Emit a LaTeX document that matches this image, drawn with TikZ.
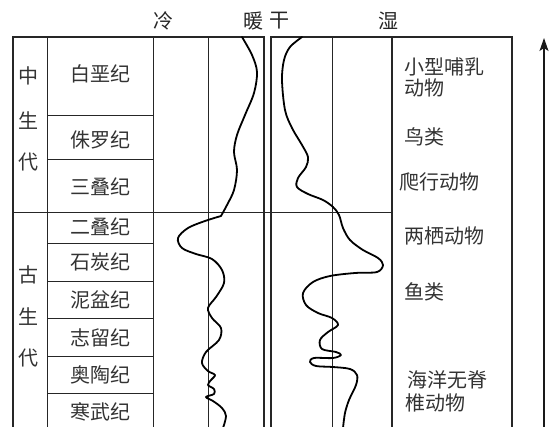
\documentclass[tikz,border=0pt]{standalone}
\usepackage{fontspec}
\setmainfont{Noto Sans CJK SC}
\usetikzlibrary{arrows.meta}
\definecolor{txt}{HTML}{333333}
\begin{document}
\begin{tikzpicture}[x=1pt,y=-1pt,
  frame/.style={line width=1.5pt,black!85},
  thin/.style={line width=1pt,black!85},
  curve/.style={line width=1.8pt,black,line join=round,line cap=round},
  lab/.style={inner sep=0pt,text=txt,font=\fontsize{20}{24}\selectfont},
  toplab/.style={inner sep=0pt,text=black!85,font=\fontsize{20}{24}\selectfont},
  animal/.style={lab,anchor=west,align=left}]
\useasboundingbox (0,0) rectangle (549,426);
% frames
\draw[frame] (13,430) -- (13,37) -- (264,37) -- (264,430);
\draw[frame] (271,430) -- (271,37) -- (512,37) -- (512,430);
\draw[thin] (47,37) -- (47,430);
\draw[thin] (153,37) -- (153,430);
\draw[thin] (208,37) -- (208,430);
\draw[thin] (332,37) -- (332,430);
\draw[frame] (392,37) -- (392,430);
% horizontal lines
\draw[thin] (13,212) -- (392,212);
\foreach \yy in {115,159,243,281,318,356,393}
  \draw[thin] (47,\yy) -- (153,\yy);
% top labels
\node[toplab] (leng) at (163,21) {冷};
\node[toplab] (nuan) at (253,21) {暖};
\node[toplab] (gan) at (279,21) {干};
\node[toplab] (shi) at (388,21) {湿};
% eras
\node[lab] (z1) at (29,76) {中};
\node[lab] (z2) at (29,121) {生};
\node[lab] (z3) at (29,162) {代};
\node[lab] (g1) at (29,275) {古};
\node[lab] (g2) at (29,317) {生};
\node[lab] (g3) at (29,358) {代};
% periods
\node[lab] (p1) at (100,74) {白垩纪};
\node[lab] (p2) at (100,140) {侏罗纪};
\node[lab] (p3) at (100,187) {三叠纪};
\node[lab] (p4) at (100,227) {二叠纪};
\node[lab] (p5) at (100,262) {石炭纪};
\node[lab] (p6) at (100,300) {泥盆纪};
\node[lab] (p7) at (100,338) {志留纪};
\node[lab] (p8) at (100,375) {奥陶纪};
\node[lab] (p9) at (100,412) {寒武纪};
% animals
\node[lab,anchor=west] (a1) at (404,67) {小型哺乳};
\node[lab,anchor=west] (a1b) at (404,88) {动物};
\node[lab,anchor=west] (a2) at (404,137) {鸟类};
\node[lab,anchor=west] (a3) at (399,182) {爬行动物};
\node[lab,anchor=west] (a4) at (404,236) {两栖动物};
\node[lab,anchor=west] (a5) at (404,292) {鱼类};
\node[lab,anchor=west] (a6) at (407,380) {海洋无脊};
\node[lab,anchor=west] (a6b) at (405,403) {椎动物};
% temperature curve
\draw[curve] plot[smooth,tension=0.55] coordinates {
 (242,37) (252,55) (257,72) (254,93) (245,115) (237,135) (234,152) (237,170)
 (234,190) (227,205) (221,216)};
\draw[curve] plot[smooth,tension=0.55] coordinates {
 (221,216) (205,221) (188,228) (178,238) (182,248) (196,254) (212,259) (222,270)
 (224,283) (216,297) (208,308) (212,318) (221,328) (219,340) (206,352) (202,363)
 (208,371) (215,375) (211,380) (208,385) (214,389) (214,394) (206,397) (213,401)
 (222,408) (226,416) (223,428)};
% humidity curve
\draw[curve] plot[smooth,tension=0.55] coordinates {
 (302,37) (290,47) (284,60) (282,80) (285,110) (292,128) (302,145) (308,157)
 (306,167) (298,178) (297,187) (308,194) (323,200) (333,207) (339,215) (343,228)
 (350,240) (363,250) (378,258) (383,265) (377,272) (355,273) (330,276) (313,282)
 (303,293) (306,305) (318,313) (332,318) (338,325) (328,332) (320,340) (322,349)
 (336,352) (341,355) (333,358) (314,358) (310,362) (316,366) (333,367) (350,369)
 (357,375) (356,385) (349,400) (345,413) (343,428)};
% time arrow
\coordinate (arrB) at (544,430);
\coordinate (arrT) at (544,38);
\draw[line width=1.2pt,black!90,-{Stealth[length=13pt,width=9pt,inset=3pt]}] (arrB) -- (arrT);
\end{tikzpicture}
\end{document}
